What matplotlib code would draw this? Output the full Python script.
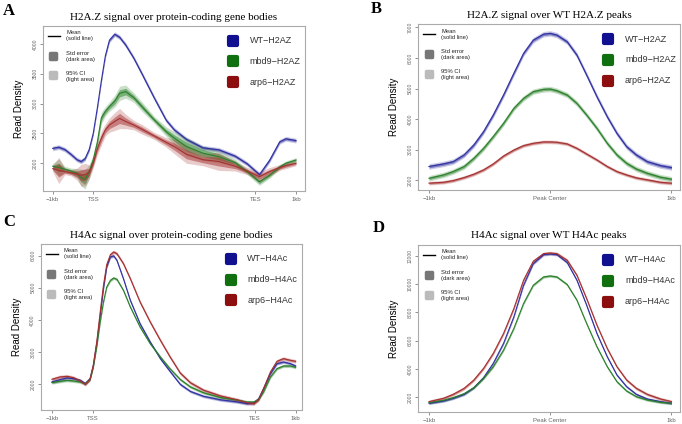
import numpy as np
import matplotlib.pyplot as plt
from matplotlib.markers import MarkerStyle

# gene-body panels: -1kb=0, TSS=1, TES=5, 1kb=6
a_x = [0, 0.15, 0.3, 0.45, 0.6, 0.7, 0.8, 0.9, 1.0, 1.1, 1.2, 1.3, 1.4, 1.53, 1.65,
       1.8, 2.0, 2.2, 2.5, 2.8, 3.0, 3.3, 3.7, 4.1, 4.5, 4.8, 5.1, 5.35, 5.6, 5.75, 6.0]
a_wt = [2250, 2270, 2230, 2150, 2060, 2030, 2080, 2230, 2500, 2920, 3380, 3800, 4060, 4160, 4110,
        3980, 3760, 3500, 3100, 2720, 2560, 2400, 2260, 2225, 2120, 1990, 1810, 2050, 2360, 2410, 2380]
a_mbd9 = [1950, 1930, 1900, 1870, 1830, 1760, 1730, 1860, 2060, 2350, 2760, 2870, 2950, 3040, 3170,
          3200, 3100, 2950, 2730, 2530, 2420, 2280, 2170, 2110, 2010, 1860, 1690, 1800, 1940, 2000, 2055]
a_arp6 = [1910, 1880, 1860, 1840, 1820, 1800, 1810, 1850, 2000, 2240, 2420, 2560, 2640, 2700, 2750,
          2700, 2640, 2570, 2460, 2350, 2280, 2150, 2060, 2030, 1950, 1870, 1775, 1860, 1930, 1960, 2000]
a_wt_se = 20
a_mbd9_se = [25, 70, 25, 25, 40, 70, 80, 60, 40, 45, 50, 40, 40, 50, 60,
             55, 40, 40, 30, 40, 55, 75, 60, 50, 30, 25, 30, 25, 20, 20, 20]
a_arp6_se = [25, 110, 25, 25, 50, 90, 95, 60, 40, 50, 60, 50, 60, 75, 85,
             60, 40, 40, 30, 40, 60, 75, 50, 75, 40, 30, 40, 35, 25, 25, 20]

# peak panels: -1kb=-1, center=0, 1kb=1
peak_x = [-1.0, -0.88, -0.80, -0.71, -0.63, -0.55, -0.47, -0.385, -0.30, -0.22, -0.14, -0.055, 0,
          0.055, 0.14, 0.22, 0.30, 0.385, 0.47, 0.55, 0.63, 0.71, 0.80, 0.91, 1.0]
b_wt = [2450, 2535, 2610, 2830, 3155, 3590, 4135, 4790, 5500, 6150, 6585, 6780, 6805,
        6750, 6530, 6095, 5445, 4735, 4080, 3535, 3100, 2830, 2610, 2480, 2415]
b_mbd9 = [2065, 2175, 2285, 2450, 2720, 3045, 3430, 3865, 4355, 4680, 4900, 4975, 4985,
          4930, 4790, 4515, 4135, 3700, 3210, 2830, 2555, 2370, 2230, 2100, 2035]
b_arp6 = [1905, 1935, 1990, 2090, 2200, 2340, 2535, 2795, 2990, 3135, 3210, 3255, 3255,
          3245, 3190, 3045, 2860, 2665, 2450, 2285, 2175, 2080, 2015, 1935, 1905]

c_x = [0, 0.2, 0.37, 0.53, 0.7, 0.82, 0.94, 1.02, 1.11, 1.19, 1.27, 1.35, 1.44, 1.52, 1.6, 1.76, 1.93,
       2.17, 2.42, 2.67, 2.91, 3.16, 3.41, 3.73, 4.15, 4.56, 4.8, 4.97, 5.09, 5.21, 5.38, 5.54, 5.7, 5.87, 6.0]
c_wt = [2074, 2146, 2198, 2177, 2125, 2022, 2177, 2591, 3315, 4143, 4972, 5644, 5955, 5990, 5851, 5282, 4609,
        3885, 3315, 2798, 2400, 2000, 1780, 1630, 1520, 1455, 1400, 1421, 1556, 1866, 2332, 2642, 2694, 2642, 2570]
c_mbd9 = [2053, 2094, 2125, 2105, 2074, 2022, 2156, 2539, 3212, 3936, 4557, 5023, 5230, 5302, 5261, 4920, 4402,
          3781, 3264, 2850, 2480, 2150, 1920, 1740, 1590, 1510, 1452, 1452, 1535, 1763, 2228, 2487, 2570, 2570, 2529]
c_arp6 = [2156, 2229, 2249, 2208, 2105, 2001, 2156, 2591, 3367, 4247, 5075, 5716, 6027, 6110, 6058, 5748, 5282,
          4557, 3936, 3367, 2850, 2350, 2050, 1820, 1640, 1520, 1431, 1400, 1525, 1866, 2384, 2715, 2798, 2746, 2715]

d_wt = [1576, 1741, 1929, 2211, 2682, 3388, 4400, 5812, 7694, 9929, 11459, 12094, 12141,
        12094, 11530, 10282, 8518, 6517, 4871, 3576, 2753, 2211, 1882, 1694, 1576]
d_mbd9 = [1623, 1788, 1976, 2258, 2682, 3341, 4165, 5341, 6870, 8635, 9929, 10518, 10588,
          10518, 9976, 8871, 7224, 5576, 4165, 3106, 2447, 2047, 1812, 1647, 1576]
d_arp6 = [1694, 1929, 2211, 2635, 3223, 4047, 5106, 6517, 8282, 10282, 11624, 12165, 12212,
          12165, 11694, 10635, 8988, 7106, 5459, 4165, 3223, 2635, 2211, 1882, 1694]

line_colors = ["#2f2fa0", "#2a802a", "#a63030"]
key_colors = ["#101090", "#107010", "#8c0e0e"]


def draw_panel(ax, x, means, ses, names, title, xticks, xlabels, yticks, ylim, xlim):
    for m, s, c in zip(means, ses, line_colors):
        m = np.asarray(m, float)
        s = np.broadcast_to(np.asarray(s, float), m.shape)
        ax.fill_between(x, m - 2 * s, m + 2 * s, color=c, alpha=0.25, lw=0)
        ax.fill_between(x, m - s, m + s, color=c, alpha=0.5, lw=0)
        ax.plot(x, m, color=c, lw=0.8)
    ax.set_xlim(*xlim)
    ax.set_ylim(*ylim)
    ax.set_xticks(xticks)
    ax.set_xticklabels(xlabels, fontsize=4.3, color="#333333", family="Liberation Sans")
    ax.set_yticks(yticks)
    ax.set_yticklabels([str(v) for v in yticks], rotation=90, va="center",
                       fontsize=3.6, color="#444444", family="Liberation Sans")
    ax.tick_params(length=2, width=0.5, colors="#666666", pad=2)
    for sp in ax.spines.values():
        sp.set_color("#aaaaaa")
        sp.set_linewidth(0.8)
    ax.set_ylabel("Read Density", fontsize=7, family="Liberation Sans", labelpad=6)
    ax.set_title(title, fontsize=8, family="Liberation Serif", pad=4.5)

    # left key
    ax.plot([0.02, 0.065], [0.94, 0.94], transform=ax.transAxes, color="black", lw=1)
    rs = MarkerStyle("s", joinstyle="round")
    ax.scatter([0.04], [0.82], transform=ax.transAxes, marker=rs, s=14, color="#777777",
               edgecolors="#777777", linewidths=2.5)
    ax.scatter([0.04], [0.70], transform=ax.transAxes, marker=rs, s=14, color="#bbbbbb",
               edgecolors="#bbbbbb", linewidths=2.5)
    small = dict(transform=ax.transAxes, fontsize=4.2, va="center", family="Liberation Sans",
                 color="#222222", linespacing=1.25)
    ax.text(0.088, 0.94, "Mean\n(solid line)", **small)
    ax.text(0.088, 0.815, "Std error\n(dark area)", **small)
    ax.text(0.088, 0.695, "95% CI\n(light area)", **small)

    # right key
    for i, (n, c) in enumerate(zip(names, key_colors)):
        y = 0.91 - i * 0.125
        ax.scatter([0.727], [y], transform=ax.transAxes, marker=rs, s=38, color=c,
                   edgecolors=c, linewidths=3)
        ax.text(0.79, y, n, transform=ax.transAxes, fontsize=6.5, va="center",
                family="Liberation Sans", color="#333333")


fig = plt.figure(figsize=(6.82, 4.24), dpi=100)
ax_a = fig.add_axes([0.063, 0.5495, 0.384, 0.3895])
ax_b = fig.add_axes([0.613, 0.552, 0.384, 0.391])
ax_c = fig.add_axes([0.060, 0.033, 0.383, 0.3915])
ax_d = fig.add_axes([0.613, 0.028, 0.384, 0.395])

gene_ticks = [0, 1, 5, 6]
gene_labels = ["\u22121kb", "TSS", "TES", "1kb"]
peak_ticks = [-1, 0, 1]
peak_labels = ["\u22121kb", "Peak Center", "1kb"]

draw_panel(ax_a, a_x, [a_wt, a_mbd9, a_arp6], [a_wt_se, a_mbd9_se, a_arp6_se],
           ["WT\u2212H2AZ", "mbd9\u2212H2AZ", "arp6\u2212H2AZ"],
           "H2A.Z signal over protein-coding gene bodies",
           gene_ticks, gene_labels, [2000, 2500, 3000, 3500, 4000], (1536, 4300), (-0.24, 6.22))
draw_panel(ax_b, peak_x, [b_wt, b_mbd9, b_arp6], [45, 45, 30],
           ["WT\u2212H2AZ", "mbd9\u2212H2AZ", "arp6\u2212H2AZ"],
           "H2A.Z signal over WT H2A.Z peaks",
           peak_ticks, peak_labels, [2000, 3000, 4000, 5000, 6000, 7000], (1683, 7108), (-1.09, 1.07))
draw_panel(ax_c, c_x, [c_wt, c_mbd9, c_arp6], [25, 25, 30],
           ["WT\u2212H4Ac", "mbd9\u2212H4Ac", "arp6\u2212H4Ac"],
           "H4Ac signal over protein-coding gene bodies",
           gene_ticks, gene_labels, [2000, 3000, 4000, 5000, 6000], (1202, 6357), (-0.27, 6.16))
draw_panel(ax_d, peak_x, [d_wt, d_mbd9, d_arp6], [50, 50, 60],
           ["WT\u2212H4Ac", "mbd9\u2212H4Ac", "arp6\u2212H4Ac"],
           "H4Ac signal over WT H4Ac peaks",
           peak_ticks, peak_labels, [2000, 4000, 6000, 8000, 10000, 12000], (950, 12800), (-1.09, 1.07))

# panel letters
letter_kw = dict(fontsize=12, fontweight="bold", family="Liberation Serif", ha="center", va="center")
fig.text(0.013, 0.975, "A", **letter_kw)
fig.text(0.552, 0.979, "B", **letter_kw)
fig.text(0.013, 0.477, "C", **letter_kw)
fig.text(0.555, 0.462, "D", **letter_kw)

fig.savefig("out.png", dpi=100)
